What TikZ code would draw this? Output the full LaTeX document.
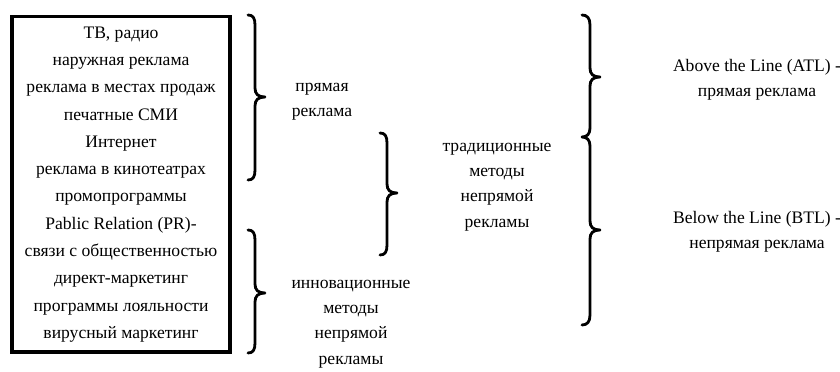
\documentclass[tikz,border=0pt]{standalone}
\usepackage{fontspec}
\setmainfont{Liberation Serif}
\usetikzlibrary{positioning}

\begin{document}
\begin{tikzpicture}[x=0.025cm, y=-0.025cm,
  txt/.style={align=center, font=\fontsize{12.5}{18}\selectfont, inner sep=0pt},
  brace/.style={line width=2pt, line join=round, line cap=round},
]
  \useasboundingbox (0,0) rectangle (840,372);

  % media list
  \node[txt, font=\fontsize{12.5}{19.4}\selectfont, draw, line width=2.2pt, minimum width=5.45cm, minimum height=8.375cm] (media) at (121,184.5)
    {ТВ, радио\\наружная реклама\\реклама в местах продаж\\печатные СМИ\\Интернет\\реклама в кинотеатрах\\промопрограммы\\Pablic Relation (PR)-\\связи с общественностью\\директ-маркетинг\\программы лояльности\\вирусный маркетинг};

  % groups
  \node[txt] (direct) at (322,102) {прямая\\реклама};
  \node[txt] (innov) at (351,324) {инновационные\\методы\\непрямой\\рекламы};
  \node[txt] (trad) at (497,187) {традиционные\\методы\\непрямой\\рекламы};
  \node[txt] (atl) at (757,80) {Above the Line (ATL) -\\прямая реклама};
  \node[txt] (btl) at (757,232) {Below the Line (BTL) -\\непрямая реклама};

  % braces
  \draw[brace] (248,15) .. controls (253,15) and (255,18) .. (255,25) -- (255,88)
    .. controls (255,94) and (258,97) .. (265,97) .. controls (258,97) and (255,100) .. (255,106)
    -- (255,170) .. controls (255,177) and (253,180) .. (248,180);
  \draw[brace] (248,230) .. controls (253,230) and (255,233) .. (255,240) -- (255,284)
    .. controls (255,290) and (258,293) .. (265,293) .. controls (258,293) and (255,296) .. (255,302)
    -- (255,343) .. controls (255,350) and (253,353) .. (248,353);
  \draw[brace] (380,133) .. controls (385,133) and (387,136) .. (387,143) -- (387,184)
    .. controls (387,190) and (390,193) .. (397,193) .. controls (390,193) and (387,196) .. (387,202)
    -- (387,245) .. controls (387,252) and (385,255) .. (380,255);
  \draw[brace] (582,15) .. controls (587,15) and (590,18) .. (590,25) -- (590,68)
    .. controls (590,74) and (593,77) .. (600,77) .. controls (593,77) and (590,80) .. (590,86)
    -- (590,128) .. controls (590,134) and (587,137) .. (582,137) .. controls (587,137) and (590,140) .. (590,146)
    -- (590,221) .. controls (590,227) and (593,230) .. (600,230) .. controls (593,230) and (590,233) .. (590,239)
    -- (590,315) .. controls (590,322) and (587,325) .. (582,325);
\end{tikzpicture}
\end{document}
